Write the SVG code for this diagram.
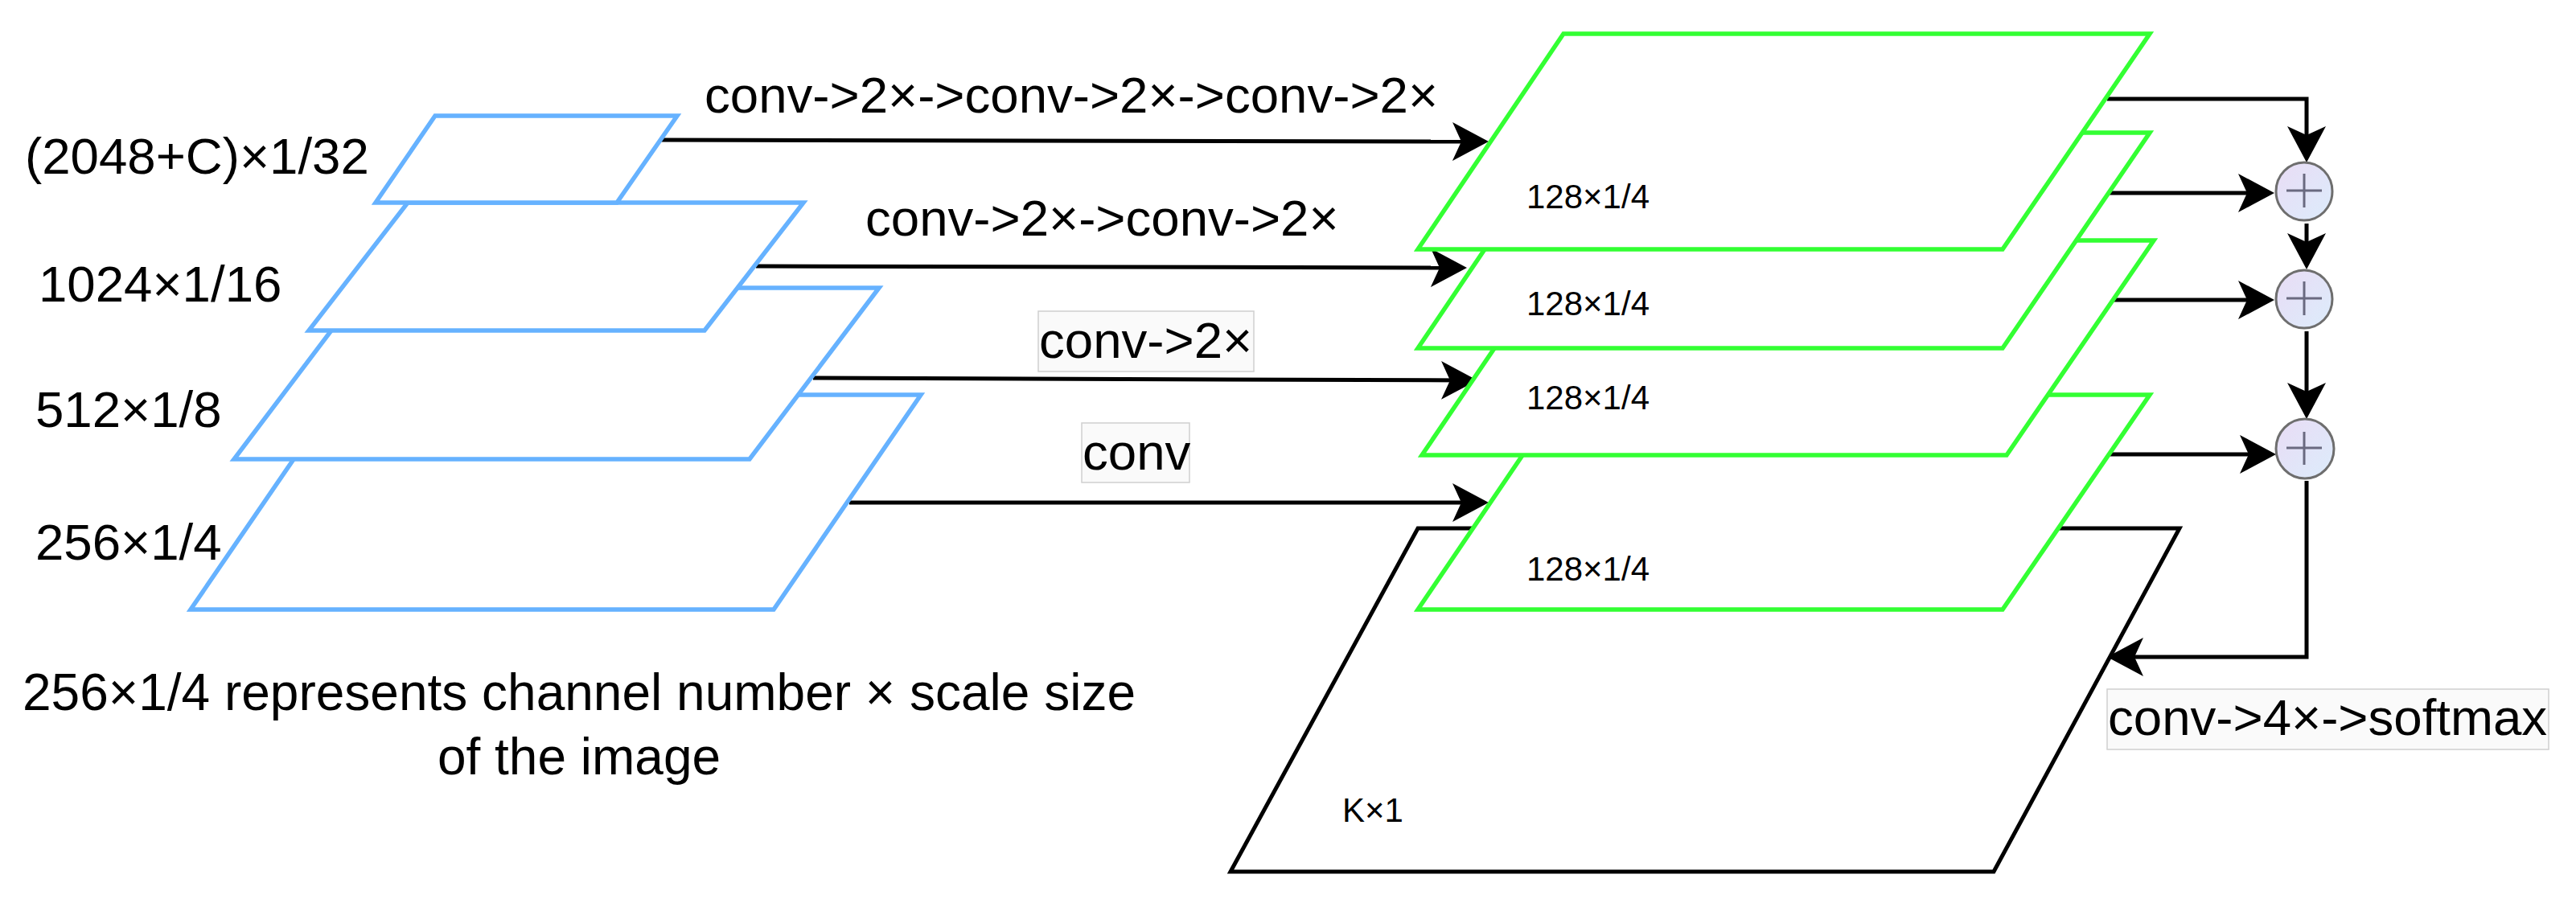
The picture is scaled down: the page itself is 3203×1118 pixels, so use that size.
<svg xmlns="http://www.w3.org/2000/svg" width="3203" height="1118" viewBox="0 0 3203 1118">
<style>
text{font-family:"Liberation Sans",Arial,sans-serif;fill:#000}
.t{font-size:63.6px}
.n{font-size:64px}
.s{font-size:42px}
.blue{fill:#fff;stroke:#66b2ff;stroke-width:5.5}
.green{fill:#fff;stroke:#33ff33;stroke-width:5.5}
.black{fill:#fff;stroke:#000;stroke-width:5}
.c{fill:none;stroke:#000;stroke-width:5}
.m{marker-end:url(#head)}
.box{fill:#fafafa;stroke:#cfcfcf;stroke-width:1.5}
.circ{fill:url(#sum);stroke:#6e6e6e;stroke-width:3}
.plus{fill:none;stroke:#6a6a80;stroke-width:3}
</style>
<defs>
<marker id="head" markerUnits="userSpaceOnUse" markerWidth="50" markerHeight="52" viewBox="0 -26 50 52" refX="30" refY="0" orient="auto">
<path d="M0,-24L45,0L0,24L11,0Z" fill="#000"/>
</marker>
<linearGradient id="sum" x1="0" y1="0" x2="1" y2="1">
<stop offset="0" stop-color="#e9dcf5"/>
<stop offset="1" stop-color="#dcecfb"/>
</linearGradient>
</defs>
<rect width="3203" height="1118" fill="#fff"/>
<g id="connectors">
<path class="c m" d="M822,174L1836,176"/>
<path class="c m" d="M940,331L1809,333"/>
<path class="c m" d="M1011,470L1822,473"/>
<path class="c m" d="M1056,625L1836,625"/>
<path class="c m" d="M2620,123H2868V187"/>
<path class="c m" d="M2623,240H2813"/>
<path class="c m" d="M2868,278V320"/>
<path class="c m" d="M2628,373H2813"/>
<path class="c m" d="M2868,412V506"/>
<path class="c m" d="M2622,565H2815"/>
<path class="c m" d="M2868,598V817H2635"/>
</g>
<g id="blue-256"><path class="blue" d="M420,491H1145L962,758H237Z"/><text class="t" x="44" y="696">256×1/4</text></g>
<g id="blue-512"><path class="blue" d="M452,358H1093L932,571H291Z"/><text class="t" x="44" y="531">512×1/8</text></g>
<g id="blue-1024"><path class="blue" d="M507,252H999L876,411H384Z"/><text class="t" x="48" y="375">1024×1/16</text></g>
<g id="blue-2048"><path class="blue" d="M541,144H842L767,252H467Z"/><text class="t" x="31" y="216">(2048+C)×1/32</text></g>
<g id="black-k"><path class="black" d="M1763,657H2710L2479,1084H1530Z"/><text class="s" x="1669" y="1022">K×1</text></g>
<g id="green-4"><path class="green" d="M1944,491H2673L2490,758H1763Z"/><text class="s" x="1898" y="722">128×1/4</text></g>
<g id="green-3"><path class="green" d="M1949,299H2678L2495,566H1768Z"/><text class="s" x="1898" y="509">128×1/4</text></g>
<g id="green-2"><path class="green" d="M1944,165H2673L2490,433H1763Z"/><text class="s" x="1898" y="392">128×1/4</text></g>
<g id="green-1"><path class="green" d="M1944,42H2673L2490,310H1763Z"/><text class="s" x="1898" y="259">128×1/4</text></g>
<g id="sum-1"><ellipse class="circ" cx="2865" cy="238" rx="35" ry="36"/><path class="plus" d="M2843,237H2887M2865,216V258"/></g>
<g id="sum-2"><ellipse class="circ" cx="2865" cy="372" rx="35" ry="36"/><path class="plus" d="M2843,371H2887M2865,350V392"/></g>
<g id="sum-3"><ellipse class="circ" cx="2866" cy="558" rx="36" ry="37"/><path class="plus" d="M2843,557H2887M2865,537V578"/></g>
<g id="edge-labels">
<text class="t" x="876" y="140">conv-&gt;2×-&gt;conv-&gt;2×-&gt;conv-&gt;2×</text>
<text class="t" x="1076" y="293">conv-&gt;2×-&gt;conv-&gt;2×</text>
<rect class="box" x="1291" y="387" width="268" height="75"/>
<text class="t" x="1292" y="445">conv-&gt;2×</text>
<rect class="box" x="1345" y="526" width="134" height="74"/>
<text class="t" x="1346" y="584">conv</text>
<rect class="box" x="2620" y="857" width="549" height="75"/>
<text class="t" x="2621" y="914">conv-&gt;4×-&gt;softmax</text>
</g>
<g id="note">
<text class="n" x="720" y="883" text-anchor="middle">256×1/4 represents channel number × scale size</text>
<text class="n" x="720" y="963" text-anchor="middle">of the image</text>
</g>
</svg>
